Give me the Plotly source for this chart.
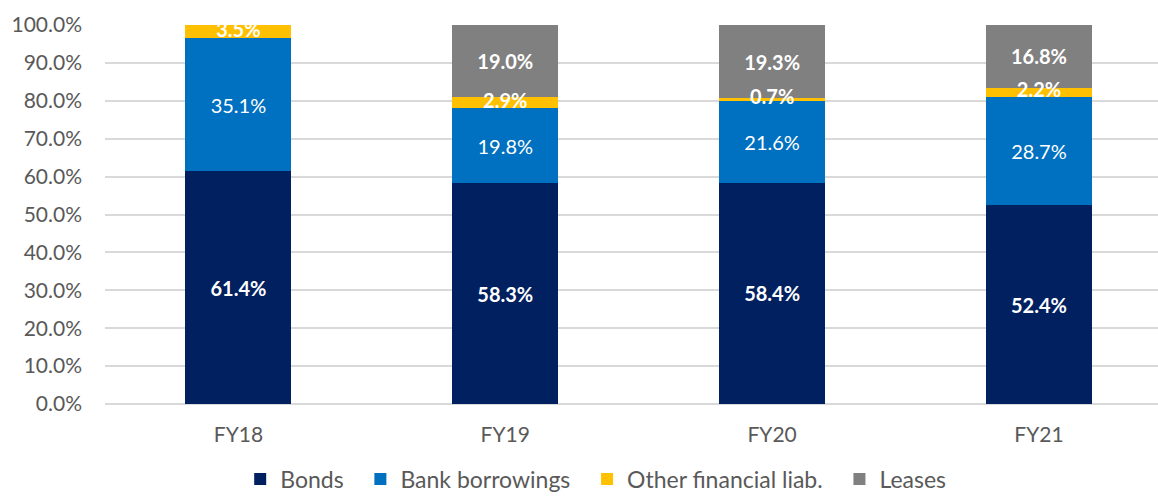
import plotly.graph_objects as go

categories = ["FY18", "FY19", "FY20", "FY21"]
bonds = [61.4, 58.3, 58.4, 52.4]
bank = [35.1, 19.8, 21.6, 28.7]
other = [3.5, 2.9, 0.7, 2.2]
leases = [0.0, 19.0, 19.3, 16.8]
y_ticks = [0, 10, 20, 30, 40, 50, 60, 70, 80, 90, 100]
legend_names = ["Bonds", "Bank borrowings", "Other financial liab.", "Leases"]

FONT = "Lato"
PAD = "\u00a0\u00a0"
series = [
    (legend_names[0], bonds, "#002060", True),
    (legend_names[1], bank, "#0070C0", False),
    (legend_names[2], other, "#FFC000", True),
    (legend_names[3], leases, "#808080", True),
]

def fmt(v, bold):
    if v <= 0:
        return ""
    t = f"{v:.1f}%"
    return f"<b>{t}</b>" if bold else t

fig = go.Figure()
for i, (name, vals, color, bold) in enumerate(series):
    is_other = i == 2
    fig.add_trace(go.Bar(
        name=name + (PAD if i < 3 else ""), x=categories, y=vals, marker_color=color,
        marker_line_width=0,
        text=None if is_other else [fmt(v, bold) for v in vals],
        texttemplate=None if is_other else "%{text}",
        textposition="none" if is_other else "inside",
        insidetextanchor="middle", textangle=0, constraintext="none",
        textfont=dict(color="white", size=20, family=FONT),
        width=0.397, hoverinfo="skip",
    ))

# labels of the thin "other" segment drawn on top of all bars
mid_other = [b + k + o / 2 for b, k, o in zip(bonds, bank, other)]
fig.add_trace(go.Scatter(
    x=categories, y=mid_other, mode="text",
    text=[fmt(v, True) for v in other], textposition="middle center",
    textfont=dict(color="white", size=20, family=FONT),
    showlegend=False, hoverinfo="skip",
))

fig.update_layout(
    barmode="stack",
    width=1158, height=498,
    margin=dict(l=105, r=0, t=25, b=94, autoexpand=False),
    paper_bgcolor="white", plot_bgcolor="white",
    uniformtext=dict(minsize=20, mode="show"),
    font=dict(family=FONT, color="#595959", size=21),
    legend=dict(orientation="h", x=0.466, xanchor="center", y=-0.198, yanchor="middle",
                font=dict(size=23, color="#595959", family=FONT),
                itemwidth=30, traceorder="normal"),
    xaxis=dict(range=[-0.5, 3.446], showgrid=False, showline=False, ticks="",
               ticklabelstandoff=16,
               tickfont=dict(size=21, color="#595959", family=FONT)),
    yaxis=dict(range=[0, 100], tickvals=y_ticks,
               ticktext=[f"{v:.1f}%" for v in y_ticks],
               showgrid=True, gridcolor="#D9D9D9", gridwidth=1.5,
               zeroline=True, zerolinecolor="#D9D9D9", zerolinewidth=1.5,
               showline=False, ticks="", ticklabelstandoff=22,
               tickfont=dict(size=21, color="#595959", family=FONT)),
)

fig.write_html("out.html")
